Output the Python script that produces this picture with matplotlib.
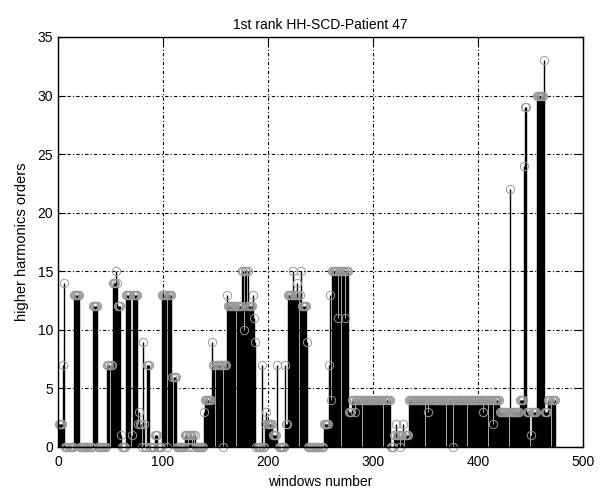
import matplotlib
matplotlib.use("Agg")
import matplotlib.pyplot as plt
import numpy as np

plt.rcParams['font.family'] = ['Liberation Sans', 'DejaVu Sans']

# values, stored as runs (value, how many windows in a row)
run_values = [2, 7, 14, 0, 13, 0, 12, 0, 7, 14, 15, 14, 12, 1, 0, 13, 1, 13,
              2, 3, 2, 0, 9, 2, 0, 7, 0, 1, 0, 13, 0, 13, 6, 0,
              1, 0, 1, 0, 1, 0, 3, 4, 9, 7, 0, 7, 13, 12, 15, 10, 15, 12, 15, 12, 13, 11, 9,
              0, 7, 0, 2, 3, 2, 1, 7, 0, 7, 2, 13, 15, 13, 14, 13, 15, 12, 9,
              0, 2, 7, 13, 4, 15, 11, 15, 11, 15, 3, 4, 3, 4,
              0, 1, 2, 1, 0, 1, 2, 1,
              4, 3, 4, 0, 4, 3, 4, 2, 4, 3, 22, 3, 4, 24, 29, 3, 1, 3, 30, 33, 3, 4]
run_lengths = [4, 1, 1, 8, 6, 12, 5, 9, 5, 3, 1, 1, 3, 1, 4, 5, 1, 5,
               1, 1, 2, 1, 1, 1, 2, 3, 4, 3, 4, 5, 1, 4, 4, 8,
               3, 1, 3, 1, 2, 8, 1, 7, 1, 9, 1, 3, 1, 13, 2, 1, 2, 1, 1, 4, 1, 1, 1,
               5, 1, 2, 1, 1, 6, 4, 1, 6, 1, 2, 5, 1, 3, 1, 2, 1, 5, 1,
               15, 5, 1, 1, 1, 6, 1, 5, 1, 3, 3, 3, 1, 33,
               3, 2, 1, 3, 1, 2, 1, 4,
               18, 1, 23, 1, 28, 1, 8, 1, 6, 9, 1, 9, 4, 1, 2, 3, 1, 5, 7, 1, 3, 7]

orders = np.repeat(run_values, run_lengths)
windows = np.arange(1, len(orders) + 1)

fig = plt.figure(figsize=(6.09, 4.92), dpi=100)
ax = fig.add_axes([58 / 609, 45 / 492, 525 / 609, 410 / 492])

markerline, stemlines, baseline = ax.stem(windows, orders, linefmt='k-', markerfmt='o', basefmt='k-')
stemlines.set_linewidth(1.0)
markerline.set_markerfacecolor('none')
markerline.set_markeredgecolor('0.6')
markerline.set_markersize(6)
markerline.set_markeredgewidth(0.7)
markerline.set_clip_on(False)
baseline.set_linewidth(1.0)

ax.set_xlim(0, 500)
ax.set_ylim(0, 35)
ax.set_xticks(range(0, 501, 100))
ax.set_yticks(range(0, 36, 5))
ax.grid(True, color='k', linestyle=(0, (3, 2, 1, 2)), linewidth=0.8)
ax.set_axisbelow(True)
ax.tick_params(direction='in', top=True, right=True, length=5, labelsize=10)
ax.tick_params(axis='x', pad=6)
for s in ax.spines.values():
    s.set_linewidth(1.0)

ax.set_title("1st rank HH-SCD-Patient 47", fontsize=10)
ax.set_xlabel("windows number", fontsize=10, labelpad=4)
ax.set_ylabel("higher harmonics orders", fontsize=10.5, labelpad=6)

fig.savefig("out.png", dpi=100)
